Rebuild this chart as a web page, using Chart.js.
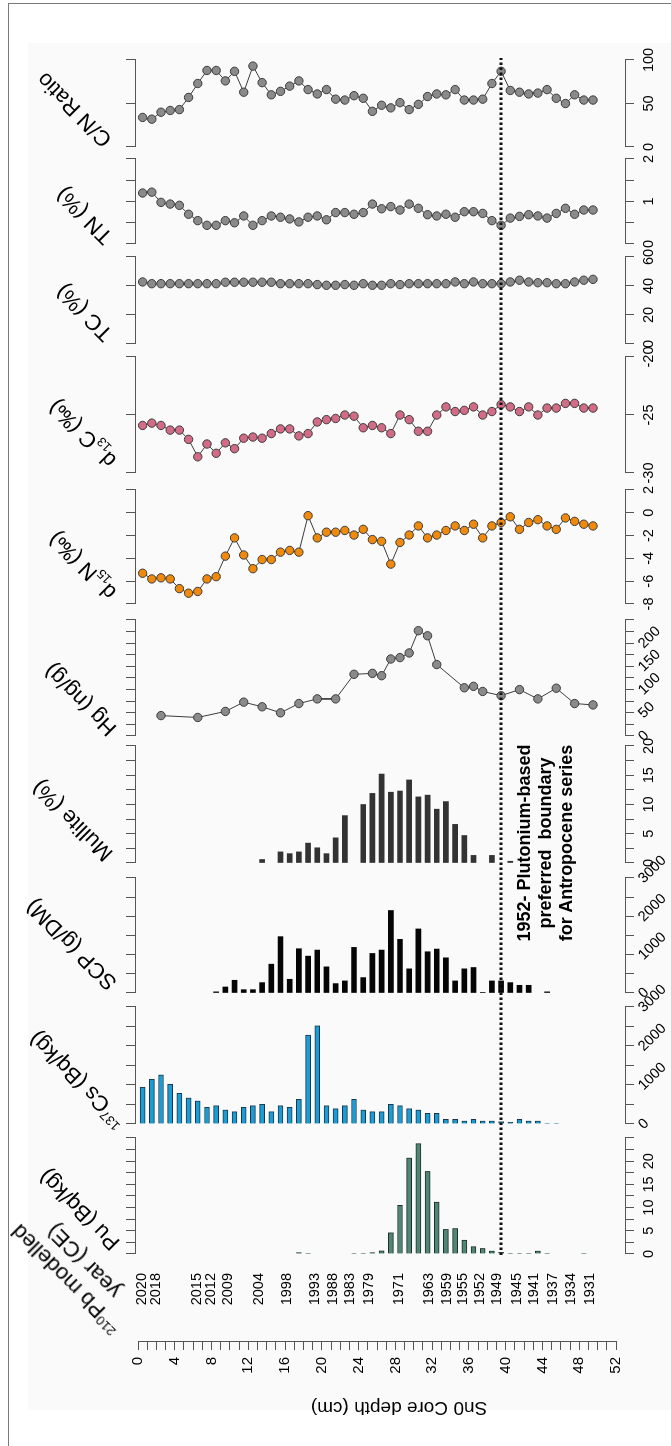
<!DOCTYPE html>
<html>
<head>
<meta charset="utf-8">
<script src="https://cdn.jsdelivr.net/npm/chart.js@4.4.1/dist/chart.umd.min.js"></script>
<style>
  html, body { margin: 0; padding: 0; background: #fff; }
  body { width: 671px; height: 1446px; position: relative; overflow: hidden; font-family: Arial, "Liberation Sans", Helvetica, sans-serif; }
  #frame { position: absolute; left: 8px; top: 3px; right: -10px; bottom: -10px; border-left: 1.5px solid #7a7a7a; border-top: 1.5px solid #7a7a7a; }
  #panelBg { position: absolute; left: 28px; top: 43px; width: 643px; height: 1367px; background: #fafafa; }
  /* the figure is laid out upright (1446 x 671) and turned a quarter turn to fit the page */
  #fig { position: absolute; left: 0; top: 0; width: 1446px; height: 671px; transform-origin: 0 0; transform: translateY(1446px) rotate(-90deg); }
  #fig canvas { position: absolute; left: 0; top: 0; }
  .ttl { position: absolute; font-size: 22px; line-height: 1.15; white-space: nowrap; text-align: center; color: #000; transform: translate(-50%, -50%) rotate(-45deg); }
  .ttl sub, .ttl sup { font-size: 0.6em; line-height: 0; }
  .note { position: absolute; font-size: 18px; font-weight: bold; line-height: 21px; white-space: pre; text-align: center; color: #000; transform: translateX(-50%); }
</style>
</head>
<body>
<div id="panelBg"></div>
<div id="frame"></div>
<div id="fig"></div>

<script>
// sample mid-depths (cm)
const sampleDepth = [0.5, 1.5, 2.5, 3.5, 4.5, 5.5, 6.5, 7.5, 8.5, 9.5, 10.5, 11.5, 12.5, 13.5, 14.5, 15.5, 16.5,
  17.5, 18.5, 19.5, 20.5, 21.5, 22.5, 23.5, 24.5, 25.5, 26.5, 27.5, 28.5, 29.5, 30.5, 31.5, 32.5, 33.5,
  34.5, 35.5, 36.5, 37.5, 38.5, 39.5, 40.5, 41.5, 42.5, 43.5, 44.5, 45.5, 46.5, 47.5, 48.5, 49.5];

const cnRatio = [34, 32, 40, 42, 43, 57, 73, 88, 88, 76, 87, 63, 93, 74, 60, 64, 70, 76, 66, 61, 66, 55, 54, 59, 56,
  41, 48, 45, 51, 43, 49, 58, 61, 60, 66, 54, 54, 55, 73, 87, 65, 63, 61, 62, 66, 56, 50, 60, 54, 54];
const tnPct = [1.20, 1.22, 0.98, 0.94, 0.91, 0.70, 0.55, 0.44, 0.44, 0.55, 0.50, 0.66, 0.44, 0.55, 0.66, 0.63, 0.59,
  0.52, 0.63, 0.66, 0.57, 0.74, 0.74, 0.70, 0.74, 0.94, 0.83, 0.88, 0.80, 0.94, 0.84, 0.69, 0.66, 0.70, 0.63, 0.76,
  0.76, 0.72, 0.55, 0.44, 0.61, 0.65, 0.69, 0.66, 0.61, 0.72, 0.84, 0.70, 0.80, 0.80];
const tcPct = [42.8, 41.6, 41.6, 41.6, 41.6, 41.6, 41.6, 41.6, 41.6, 42.6, 42.6, 42.6, 42.6, 42.6, 42.6, 41.6, 41.6,
  41.6, 41.6, 41.0, 40.5, 40.5, 41.0, 40.5, 41.6, 40.5, 40.5, 41.6, 41.0, 41.6, 41.6, 41.6, 41.6, 41.6, 42.8, 41.6,
  42.8, 41.6, 41.6, 41.6, 42.8, 44.0, 42.8, 42.3, 42.3, 41.6, 41.6, 42.8, 44.0, 44.6];
const d13C = [-25.9, -25.7, -25.9, -26.3, -26.3, -27.1, -28.6, -27.5, -28.3, -27.4, -27.9, -27.0, -26.9, -27.0, -26.6,
  -26.2, -26.2, -26.8, -26.6, -25.6, -25.4, -25.3, -25.0, -25.1, -26.1, -25.9, -26.1, -26.6, -25.0, -25.4, -26.4,
  -26.4, -25.0, -24.3, -24.7, -24.6, -24.3, -25.0, -24.7, -24.1, -24.3, -24.7, -24.3, -25.0, -24.4, -24.4, -24.0,
  -24.0, -24.4, -24.4];
const d15N = [-5.3, -5.8, -5.7, -5.8, -6.65, -7.05, -6.9, -5.8, -5.6, -3.8, -2.2, -3.7, -4.9, -4.1, -4.1, -3.45, -3.3,
  -3.45, -0.25, -2.2, -1.7, -1.7, -1.55, -1.95, -1.45, -2.35, -2.5, -4.5, -2.6, -1.95, -1.15, -2.2, -1.95, -1.55,
  -1.15, -1.55, -1.0, -2.2, -1.15, -0.85, -0.35, -1.45, -0.85, -0.6, -1.15, -1.45, -0.45, -0.75, -1.0, -1.15];

const hgDepth = [2.5, 6.5, 9.5, 11.5, 13.5, 15.5, 17.5, 19.5, 21.5, 23.5, 25.5, 26.5, 27.5, 28.5, 29.5, 30.5, 31.5,
  32.5, 35.5, 36.5, 37.5, 39.5, 41.5, 43.5, 45.5, 47.5, 49.5];
const hgNgG = [44, 40, 53, 73, 63, 50, 70, 80, 80, 133, 135, 130, 166, 169, 179, 227, 216, 154, 104, 107, 96, 87, 100,
  80, 103, 70, 67];

const mulliteDepth = [13.5, 15.5, 16.5, 17.5, 18.5, 19.5, 20.5, 21.5, 22.5, 24.5, 25.5, 26.5, 27.5, 28.5, 29.5, 30.5,
  31.5, 32.5, 33.5, 34.5, 35.5, 36.5, 38.5, 40.5];
const mullitePct = [0.6, 1.9, 1.6, 1.9, 3.4, 2.6, 1.6, 4.3, 8.1, 10.0, 11.9, 15.2, 12.1, 12.3, 14.2, 11.3, 11.6, 9.2,
  10.5, 6.6, 4.7, 1.3, 1.3, 0.3];

const scpDepth = [8.5, 9.5, 10.5, 11.5, 12.5, 13.5, 14.5, 15.5, 16.5, 17.5, 18.5, 19.5, 20.5, 21.5, 22.5, 23.5, 24.5,
  25.5, 26.5, 27.5, 28.5, 29.5, 30.5, 31.5, 32.5, 33.5, 34.5, 35.5, 36.5, 37.5, 38.5, 39.5, 40.5, 41.5, 42.5, 44.5];
const scpGDM = [30, 157, 332, 87, 87, 271, 752, 1470, 358, 1155, 962, 1120, 682, 245, 315, 1190, 402, 1032, 1120, 2152,
  1400, 630, 1671, 1076, 1146, 918, 315, 630, 665, 10, 315, 315, 271, 201, 201, 30];

const cs137 = [943, 1149, 1260, 1020, 789, 669, 591, 429, 471, 360, 317, 429, 471, 506, 317, 471, 429, 634, 2280, 2520,
  471, 394, 471, 634, 360, 317, 317, 506, 471, 394, 360, 274, 274, 120, 120, 77, 120, 77, 77, 60, 43, 120, 77, 77, 10, 10];

const puDepth = [17.5, 18.5, 23.5, 24.5, 25.5, 26.5, 27.5, 28.5, 29.5, 30.5, 31.5, 32.5, 33.5, 34.5, 35.5, 36.5, 37.5,
  38.5, 39.5, 40.5, 41.5, 42.5, 43.5, 44.5, 48.5];
const puBqKg = [0.3, 0.05, 0.05, 0.05, 0.3, 0.7, 4.6, 10.5, 20.7, 23.8, 17.8, 11.2, 5.3, 5.5, 3.0, 1.6, 1.2, 0.65, 0.35,
  0.05, 0.05, 0.05, 0.65, 0.05, 0.05];

// 210Pb modelled years and the depths they sit at
const yearLabels = ['2020', '2018', '2015', '2012', '2009', '2004', '1998', '1993', '1988', '1983', '1979', '1971',
  '1963', '1959', '1955', '1952', '1949', '1945', '1941', '1937', '1934', '1931'];
const yearDepth = [0.4, 2.0, 6.4, 7.9, 9.8, 13.2, 16.2, 19.3, 21.2, 23.1, 25.1, 28.4, 31.7, 33.6, 35.4, 37.2, 39.1,
  41.2, 43.1, 45.2, 47.1, 49.2];

const depthLabels = [0, 4, 8, 12, 16, 20, 24, 28, 32, 36, 40, 44, 48, 52];
const boundaryDepth = 39.5;

// ---- layout (upright figure, before the quarter turn) ----
const FIG_W = 1446, FIG_H = 671;
const AREA_TOP = 135, AREA_BOTTOM = 625;
const DEPTH_MIN = -0.33, DEPTH_MAX = 52.98;
const AXIS = '#555';
const FONT = 'Arial, "Liberation Sans", Helvetica, sans-serif';

Chart.defaults.font.family = FONT;
Chart.defaults.color = '#000';

const fig = document.getElementById('fig');

function newCanvas() {
  const c = document.createElement('canvas');
  c.width = FIG_W;
  c.height = FIG_H;
  fig.appendChild(c);
  return c;
}

function slantTicks(labels) {
  return {
    id: 'slantTicks',
    afterDraw(chart) {
      const s = chart.scales.x;
      const ctx = chart.ctx;
      ctx.save();
      ctx.fillStyle = '#000';
      ctx.font = '14.5px ' + FONT;
      ctx.textAlign = 'left';
      ctx.textBaseline = 'middle';
      labels.forEach(v => {
        ctx.save();
        ctx.translate(s.getPixelForValue(v) - 3, chart.chartArea.bottom + 16);
        ctx.rotate(Math.PI / 4);
        ctx.fillText(String(v), 0, 0);
        ctx.restore();
      });
      ctx.restore();
    }
  };
}

function makePanel(p) {
  const isBar = p.kind === 'bar';
  const points = p.depth.map((d, i) => ({ x: p.values[i], y: d }));
  const dataset = isBar ? {
    data: points,
    backgroundColor: p.color,
    borderColor: p.edge || p.color,
    borderWidth: p.edge ? 1 : 0,
    barThickness: 5
  } : {
    data: points,
    showLine: true,
    borderColor: '#3c3c3c',
    borderWidth: 1,
    pointRadius: 4.2,
    pointBackgroundColor: p.color,
    pointBorderColor: '#3a3a3a',
    pointBorderWidth: 1
  };
  const axisBase = {
    type: 'linear', min: p.min, max: p.max,
    grid: { drawOnChartArea: false, drawTicks: true, tickLength: 9, color: AXIS, lineWidth: 1 },
    border: { display: true, color: AXIS, width: 1 }
  };
  new Chart(newCanvas(), {
    type: isBar ? 'bar' : 'scatter',
    data: { datasets: [dataset] },
    options: {
      responsive: false,
      animation: false,
      indexAxis: isBar ? 'y' : 'x',
      layout: { autoPadding: false, padding: { left: p.u0, right: FIG_W - p.u1, top: AREA_TOP - 9, bottom: FIG_H - AREA_BOTTOM - 40 } },
      plugins: { legend: { display: false }, tooltip: { enabled: false } },
      scales: {
        x: {
          ...axisBase, position: 'bottom',
          afterFit(s) { s.height = 40; },
          ticks: {
            stepSize: p.step, autoSkip: false, minRotation: 0, maxRotation: 0, padding: 6,
            font: { size: 14.5 }, color: '#000', display: !p.slant,
            callback: v => p.labels.includes(v) ? String(v) : ''
          }
        },
        x2: {
          ...axisBase, position: 'top',
          afterFit(s) { s.height = 9; },
          ticks: { stepSize: p.step, autoSkip: false, display: false }
        },
        y: { type: 'linear', min: DEPTH_MIN, max: DEPTH_MAX, reverse: true, offset: false, display: false }
      }
    },
    plugins: p.slant ? [slantTicks(p.labels)] : []
  });
}

const panels = [
  { kind: 'bar', depth: puDepth, values: puBqKg, u0: 192, u1: 308, min: 0, max: 25, step: 2.5, labels: [0, 5, 10, 15, 20], color: '#4f8676', edge: '#1f2f2a' },
  { kind: 'bar', depth: sampleDepth.slice(0, cs137.length), values: cs137, u0: 322, u1: 439, min: 0, max: 3000, step: 500, labels: [0, 1000, 2000, 3000], slant: true, color: '#1b9cd4', edge: '#17384a' },
  { kind: 'bar', depth: scpDepth, values: scpGDM, u0: 453, u1: 568, min: 0, max: 3000, step: 500, labels: [0, 1000, 2000, 3000], slant: true, color: '#050505' },
  { kind: 'bar', depth: mulliteDepth, values: mullitePct, u0: 583, u1: 700, min: 0, max: 20, step: 2.5, labels: [0, 5, 10, 15, 20], color: '#333333' },
  { kind: 'line', depth: hgDepth, values: hgNgG, u0: 710, u1: 826, min: 0, max: 250, step: 25, labels: [0, 50, 100, 150, 200], slant: true, color: '#8a8a8a' },
  { kind: 'line', depth: sampleDepth, values: d15N, u0: 842, u1: 956, min: -8, max: 2, step: 2, labels: [-8, -6, -4, -2, 0, 2], color: '#ef8a0c' },
  { kind: 'line', depth: sampleDepth, values: d13C, u0: 973, u1: 1089, min: -30, max: -20, step: 5, labels: [-30, -25, -20], color: '#d26c86' },
  { kind: 'line', depth: sampleDepth, values: tcPct, u0: 1102, u1: 1189, min: 0, max: 60, step: 20, labels: [0, 20, 40, 60], color: '#8a8a8a' },
  { kind: 'line', depth: sampleDepth, values: tnPct, u0: 1202, u1: 1287, min: 0, max: 2, step: 0.5, labels: [0, 1, 2], color: '#8a8a8a' },
  { kind: 'line', depth: sampleDepth, values: cnRatio, u0: 1299, u1: 1386, min: 0, max: 100, step: 50, labels: [0, 50, 100], color: '#8a8a8a' }
];
panels.forEach(makePanel);

// modelled years column
new Chart(newCanvas(), {
  type: 'scatter',
  data: { datasets: [] },
  options: {
    responsive: false,
    animation: false,
    layout: { autoPadding: false, padding: { left: 113, right: FIG_W - 180, top: 138, bottom: FIG_H - 616 } },
    plugins: { legend: { display: false }, tooltip: { enabled: false } },
    scales: {
      x: { display: false, min: 0, max: 1 },
      y: {
        type: 'linear', position: 'left', min: 0, max: 52, reverse: true,
        afterFit(s) { s.width = 60; },
        afterBuildTicks(s) { s.ticks = yearDepth.map(v => ({ value: v })); },
        ticks: { autoSkip: false, padding: 0, font: { size: 14.5 }, color: '#000', callback: (v, i) => yearLabels[i] },
        grid: { display: false, drawTicks: false },
        border: { display: false }
      }
    }
  }
});

// depth ruler, its title and the boundary line
const extras = {
  id: 'extras',
  afterDraw(chart) {
    const ctx = chart.ctx;
    const y = chart.scales.y;
    ctx.save();
    ctx.fillStyle = '#000';
    ctx.font = '19px ' + FONT;
    ctx.textAlign = 'center';
    ctx.textBaseline = 'middle';
    ctx.translate(39, (y.getPixelForValue(0) + y.getPixelForValue(52)) / 2 + 22);
    ctx.rotate(-Math.PI / 2);
    ctx.fillText('Sn0 Core depth (cm)', 0, 0);
    ctx.restore();

    const by = y.getPixelForValue(boundaryDepth);
    ctx.save();
    ctx.strokeStyle = '#111';
    ctx.lineWidth = 3;
    ctx.setLineDash([2.5, 2.5]);
    ctx.beginPath();
    ctx.moveTo(191, by);
    ctx.lineTo(1388, by);
    ctx.stroke();
    ctx.restore();
  }
};

new Chart(newCanvas(), {
  type: 'scatter',
  data: { datasets: [] },
  options: {
    responsive: false,
    animation: false,
    layout: { autoPadding: false, padding: { left: 28, right: FIG_W - 130, top: 138, bottom: FIG_H - 616 } },
    plugins: { legend: { display: false }, tooltip: { enabled: false } },
    scales: {
      x: { display: false, min: 0, max: 1 },
      y: {
        type: 'linear', position: 'left', min: 0, max: 52, reverse: true,
        afterFit(s) { s.width = 76; },
        ticks: { stepSize: 1, autoSkip: false, padding: 7, font: { size: 15 }, color: '#000', callback: v => depthLabels.includes(v) ? String(v) : '' },
        grid: { drawOnChartArea: false, drawTicks: true, tickLength: 8, color: AXIS },
        border: { display: true, color: AXIS }
      }
    }
  },
  plugins: [extras]
});

// panel titles (slanted) and the boundary note
const titles = [
  { html: 'C/N Ratio', u: 1336, v: 74 },
  { html: 'TN (%)', u: 1230, v: 84 },
  { html: 'TC (%)', u: 1133, v: 84 },
  { html: 'd<sub>13</sub>C (‰)', u: 1012, v: 82 },
  { html: 'd<sub>15</sub>N (‰)', u: 880, v: 82 },
  { html: 'Hg (ng/g)', u: 746, v: 80 },
  { html: 'Mullite (%)', u: 625, v: 72 },
  { html: 'SCP (g/DM)', u: 501, v: 71 },
  { html: '<sup>137</sup>Cs (Bq/kg)', u: 366, v: 77 },
  { html: 'Pu (Bq/kg)', u: 236, v: 79 },
  { html: '<sup>210</sup>Pb modelled<br>year (CE)', u: 176, v: 75 }
];
titles.forEach(t => {
  const d = document.createElement('div');
  d.className = 'ttl';
  d.innerHTML = t.html;
  d.style.left = t.u + 'px';
  d.style.top = t.v + 'px';
  fig.appendChild(d);
});

const note = document.createElement('div');
note.className = 'note';
note.textContent = '1952- Plutonium-based\npreferred  boundary\nfor Antropocene series';
note.style.left = '603px';
note.style.top = '514px';
fig.appendChild(note);
</script>
</body>
</html>
